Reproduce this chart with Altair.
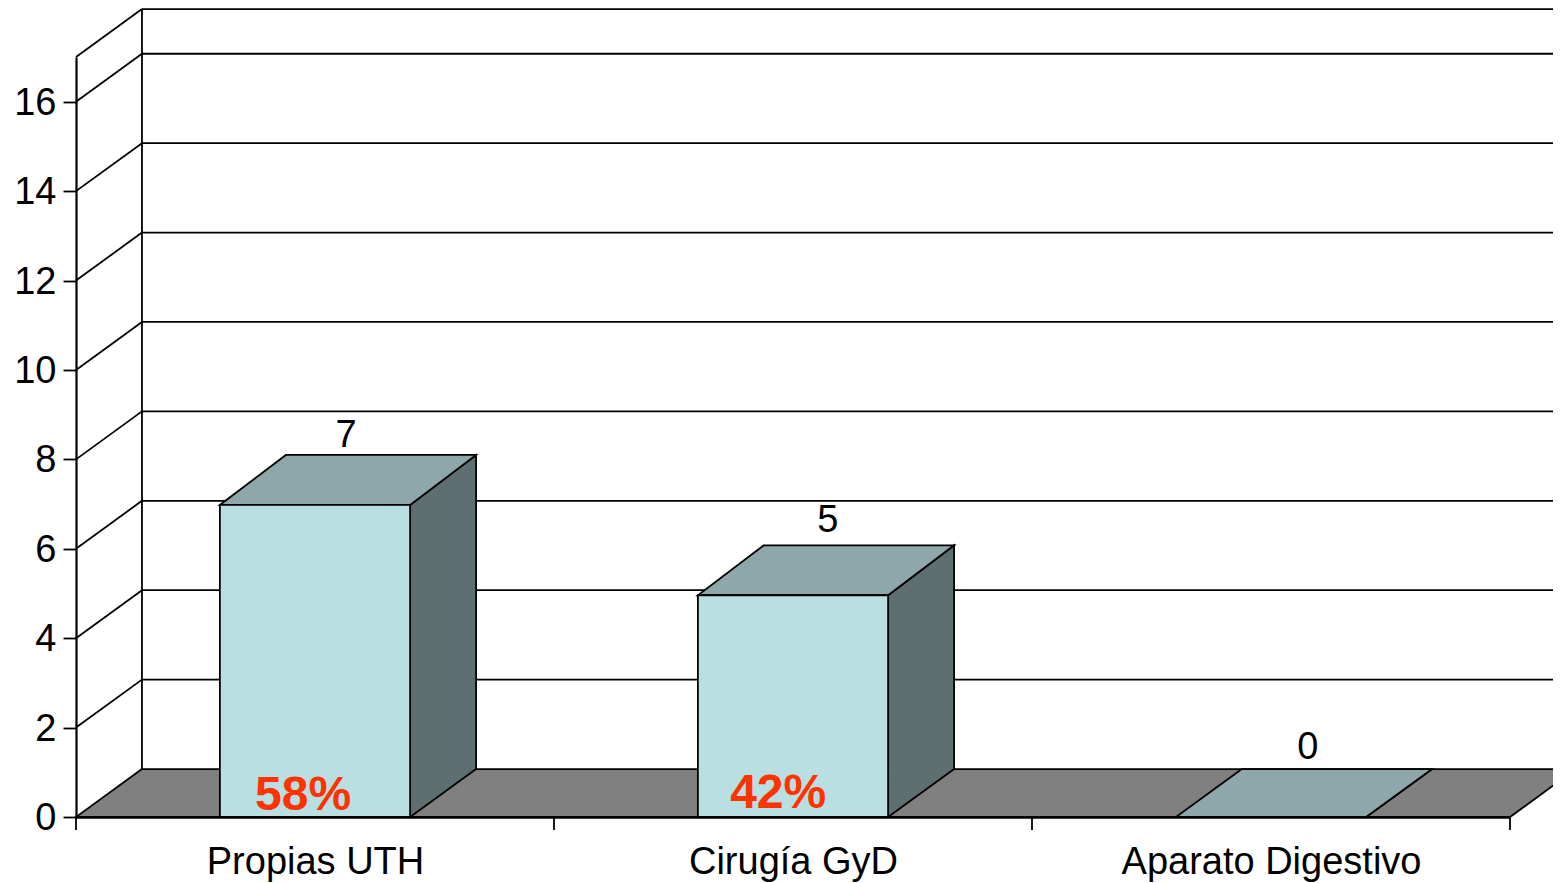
import altair as alt
import pandas as pd

categories = ["Propias UTH", "Cirugía GyD", "Aparato Digestivo"]
values = [6.98, 4.96, 0]
value_labels = ["7", "5", "0"]
value_label_x = [0.565, 1.573, 2.577]
value_label_y = [8.286, 6.375, 1.307]
pct_labels = ["58%", "42%"]
pct_x = [0.475, 1.469]
pct_y = [0.156, 0.2]
y_ticks = [0, 2, 4, 6, 8, 10, 12, 14, 16]
y_max = 17
DX = 0.138
DY = 1.073
DY_TOP = 1.118
HALF = 0.199
FONT = "Liberation Sans"
LW = 1.8

FRONT, TOP, SIDE, FLOOR = "#B9DFE2", "#8EA7AA", "#5E6F72", "#808080"

X = alt.X("x:Q", title=None, scale=alt.Scale(domain=[0, 3], nice=False, zero=False),
          axis=alt.Axis(values=[0.5, 1.5, 2.5], grid=False, ticks=False, domainWidth=2.5,
                        domainColor="black", labelFont=FONT, labelFontSize=38, labelColor="black",
                        labelPadding=56, labelBaseline="alphabetic", labelOverlap=False, labelFlush=False,
                        labelLimit=600,
                        labelExpr="datum.value < 1 ? '%s' : datum.value < 2 ? '%s' : '%s'" % tuple(categories)))
Y = alt.Y("y:Q", title=None, scale=alt.Scale(domain=[0, y_max], nice=False, zero=False),
          axis=alt.Axis(values=y_ticks, grid=False, tickSize=13, tickWidth=LW, tickColor="black",
                        domainWidth=2.2, domainColor="black", labelFont=FONT, labelFontSize=38,
                        labelColor="black", labelPadding=7, labelOffset=1.5, labelOverlap=False, labelFlush=False))

# walls: gridlines and frame
wall = []
for v in y_ticks[1:] + [y_max]:
    wall.append(dict(x=0, x2=DX, y=v, y2=v + DY))
    wall.append(dict(x=DX, x2=3 + DX, y=v + DY, y2=v + DY))
wall.append(dict(x=DX, x2=DX, y=DY, y2=y_max + DY))
walls = alt.Chart(pd.DataFrame(wall)).mark_rule(color="black", strokeWidth=LW).encode(
    x=X, x2="x2:Q", y=Y, y2="y2:Q")

# floor
floor_df = pd.DataFrame([dict(y=0, x=0, x2=3), dict(y=DY, x=DX, x2=3 + DX)])
floor = alt.Chart(floor_df).mark_area(orient="horizontal", fill=FLOOR, stroke="black", strokeWidth=LW, opacity=1).encode(
    x=X, x2="x2:Q", y=Y)

tick_df = pd.DataFrame({"x": [0, 1, 2, 3]})
ticks = alt.Chart(tick_df).mark_rule(color="black", strokeWidth=LW).encode(
    x=X, y=alt.value(760), y2=alt.value(773))

# bars
front_rows, top_rows, side_rows = [], [], []
for i, v in enumerate(values):
    c = i + 0.5
    back = v + DY_TOP if v > 0 else DY
    front_rows.append(dict(x=c - HALF, x2=c + HALF, y=0, y2=v))
    top_rows += [dict(b=i, y=v, x=c - HALF, x2=c + HALF),
                 dict(b=i, y=back, x=c - HALF + DX, x2=c + HALF + DX)]
    side_rows += [dict(b=i, x=c + HALF, y=0, y2=v),
                  dict(b=i, x=c + HALF + DX, y=DY, y2=back)]

side = alt.Chart(pd.DataFrame(side_rows)).mark_area(fill=SIDE, stroke="black", strokeWidth=LW, opacity=1).encode(
    x=X, y=Y, y2="y2:Q", detail="b:N")
top = alt.Chart(pd.DataFrame(top_rows)).mark_area(orient="horizontal", fill=TOP, stroke="black", strokeWidth=LW, opacity=1).encode(
    x=X, x2="x2:Q", y=Y, detail="b:N")
front = alt.Chart(pd.DataFrame(front_rows)).mark_rect(fill=FRONT, stroke="black", strokeWidth=LW).encode(
    x=X, x2="x2:Q", y=Y, y2="y2:Q")

# value labels
val_df = pd.DataFrame({"x": value_label_x, "y": value_label_y, "t": value_labels})
val_text = alt.Chart(val_df).mark_text(font=FONT, fontSize=38, color="black", baseline="alphabetic").encode(
    x=X, y=Y, text="t:N")

pct_df = pd.DataFrame({"x": pct_x, "y": pct_y, "t": pct_labels})
pct_text = alt.Chart(pct_df).mark_text(font=FONT, fontSize=48, fontWeight="bold", color="#FF3300", baseline="alphabetic").encode(
    x=X, y=Y, text="t:N")

chart = alt.layer(walls, floor, ticks, side, top, front, val_text, pct_text).properties(
    width=1434, height=760,
    padding={"left": 68, "top": 49, "right": 43, "bottom": 66},
    autosize=alt.AutoSizeParams(type="none"),
).configure_view(stroke=None)

chart.save("out.html", embed_options={"renderer": "svg", "actions": False})
